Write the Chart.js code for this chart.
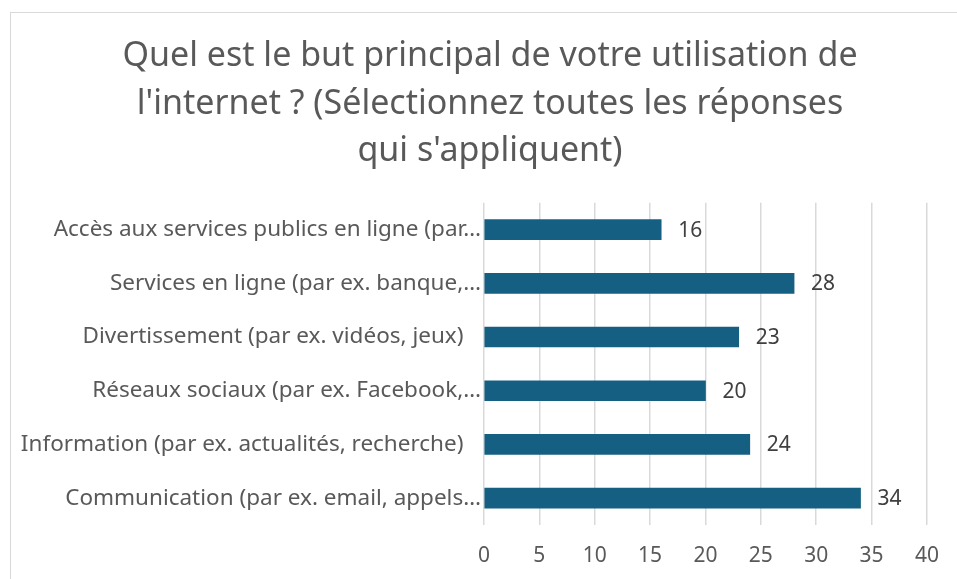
<!DOCTYPE html>
<html>
<head>
<meta charset="utf-8">
<script src="https://cdn.jsdelivr.net/npm/chart.js@4"></script>
<style>
  html, body { margin: 0; padding: 0; background: #fff; overflow: hidden; }
  .frame { position: absolute; left: 10px; top: 12px; width: 980px; height: 600px; border: 1px solid #d9d9d9; }
  #chart { position: absolute; left: 0; top: 0; }
</style>
</head>
<body>
<div class="frame"></div>
<canvas id="chart" width="957" height="579"></canvas>
<script>
// Chart data
const titleLines = [
  "Quel est le but principal de votre utilisation de",
  "l'internet ? (Sélectionnez toutes les réponses",
  "qui s'appliquent)"
];
const categories = [
  "Accès aux services publics en ligne (par…",
  "Services en ligne (par ex. banque,…",
  "Divertissement (par ex. vidéos, jeux)   ",
  "Réseaux sociaux (par ex. Facebook,…",
  "Information (par ex. actualités, recherche)   ",
  "Communication (par ex. email, appels…"
];
const values = [16, 28, 23, 20, 24, 34];
const axisMin = 0;
const axisMax = 40;
const axisStep = 5;

const FONT = "'Noto Sans', 'Open Sans', sans-serif";

// value labels at the end of each bar
const barLabels = {
  id: "barLabels",
  afterDatasetsDraw(chart) {
    const ctx = chart.ctx;
    const meta = chart.getDatasetMeta(0);
    ctx.save();
    ctx.font = "21px " + FONT;
    ctx.fillStyle = "#404040";
    ctx.textAlign = "left";
    ctx.textBaseline = "middle";
    meta.data.forEach((bar, i) => {
      ctx.fillText(String(values[i]), bar.x + 17, bar.y + 1);
    });
    ctx.restore();
  }
};

const chart = new Chart(document.getElementById("chart").getContext("2d"), {
  type: "bar",
  data: {
    labels: categories,
    datasets: [{
      data: values,
      backgroundColor: "#156082",
      borderWidth: 0,
      barThickness: 20
    }]
  },
  options: {
    indexAxis: "y",
    responsive: false,
    animation: false,
    // negative right padding + empty right axis: title centred like the original
    layout: { padding: { top: 14, right: -23, bottom: 0, left: 0 } },
    plugins: {
      legend: { display: false },
      tooltip: { enabled: false },
      title: {
        display: true,
        text: titleLines,
        color: "#595959",
        font: { family: FONT, size: 34, weight: "normal", lineHeight: 1.39 },
        padding: { top: 19, bottom: 28 }
      }
    },
    scales: {
      x: {
        min: axisMin,
        max: axisMax,
        afterFit(scale) { scale.height = 54; },
        ticks: {
          stepSize: axisStep,
          color: "#595959",
          font: { family: FONT, size: 21 },
          padding: 18
        },
        grid: { color: "#d9d9d9", lineWidth: 1.5, drawTicks: false },
        border: { display: false }
      },
      y: {
        afterFit(scale) { scale.width = 484; },
        ticks: {
          color: "#595959",
          font: { family: FONT, size: 22.5 },
          padding: 3
        },
        grid: { display: false, drawTicks: false },
        border: { display: false }
      },
      spacer: {
        type: "category",
        axis: "y",
        position: "right",
        afterFit(scale) { scale.width = 53; },
        ticks: { display: false },
        grid: { display: false, drawTicks: false },
        border: { display: false }
      }
    }
  },
  plugins: [barLabels]
});
</script>
</body>
</html>
